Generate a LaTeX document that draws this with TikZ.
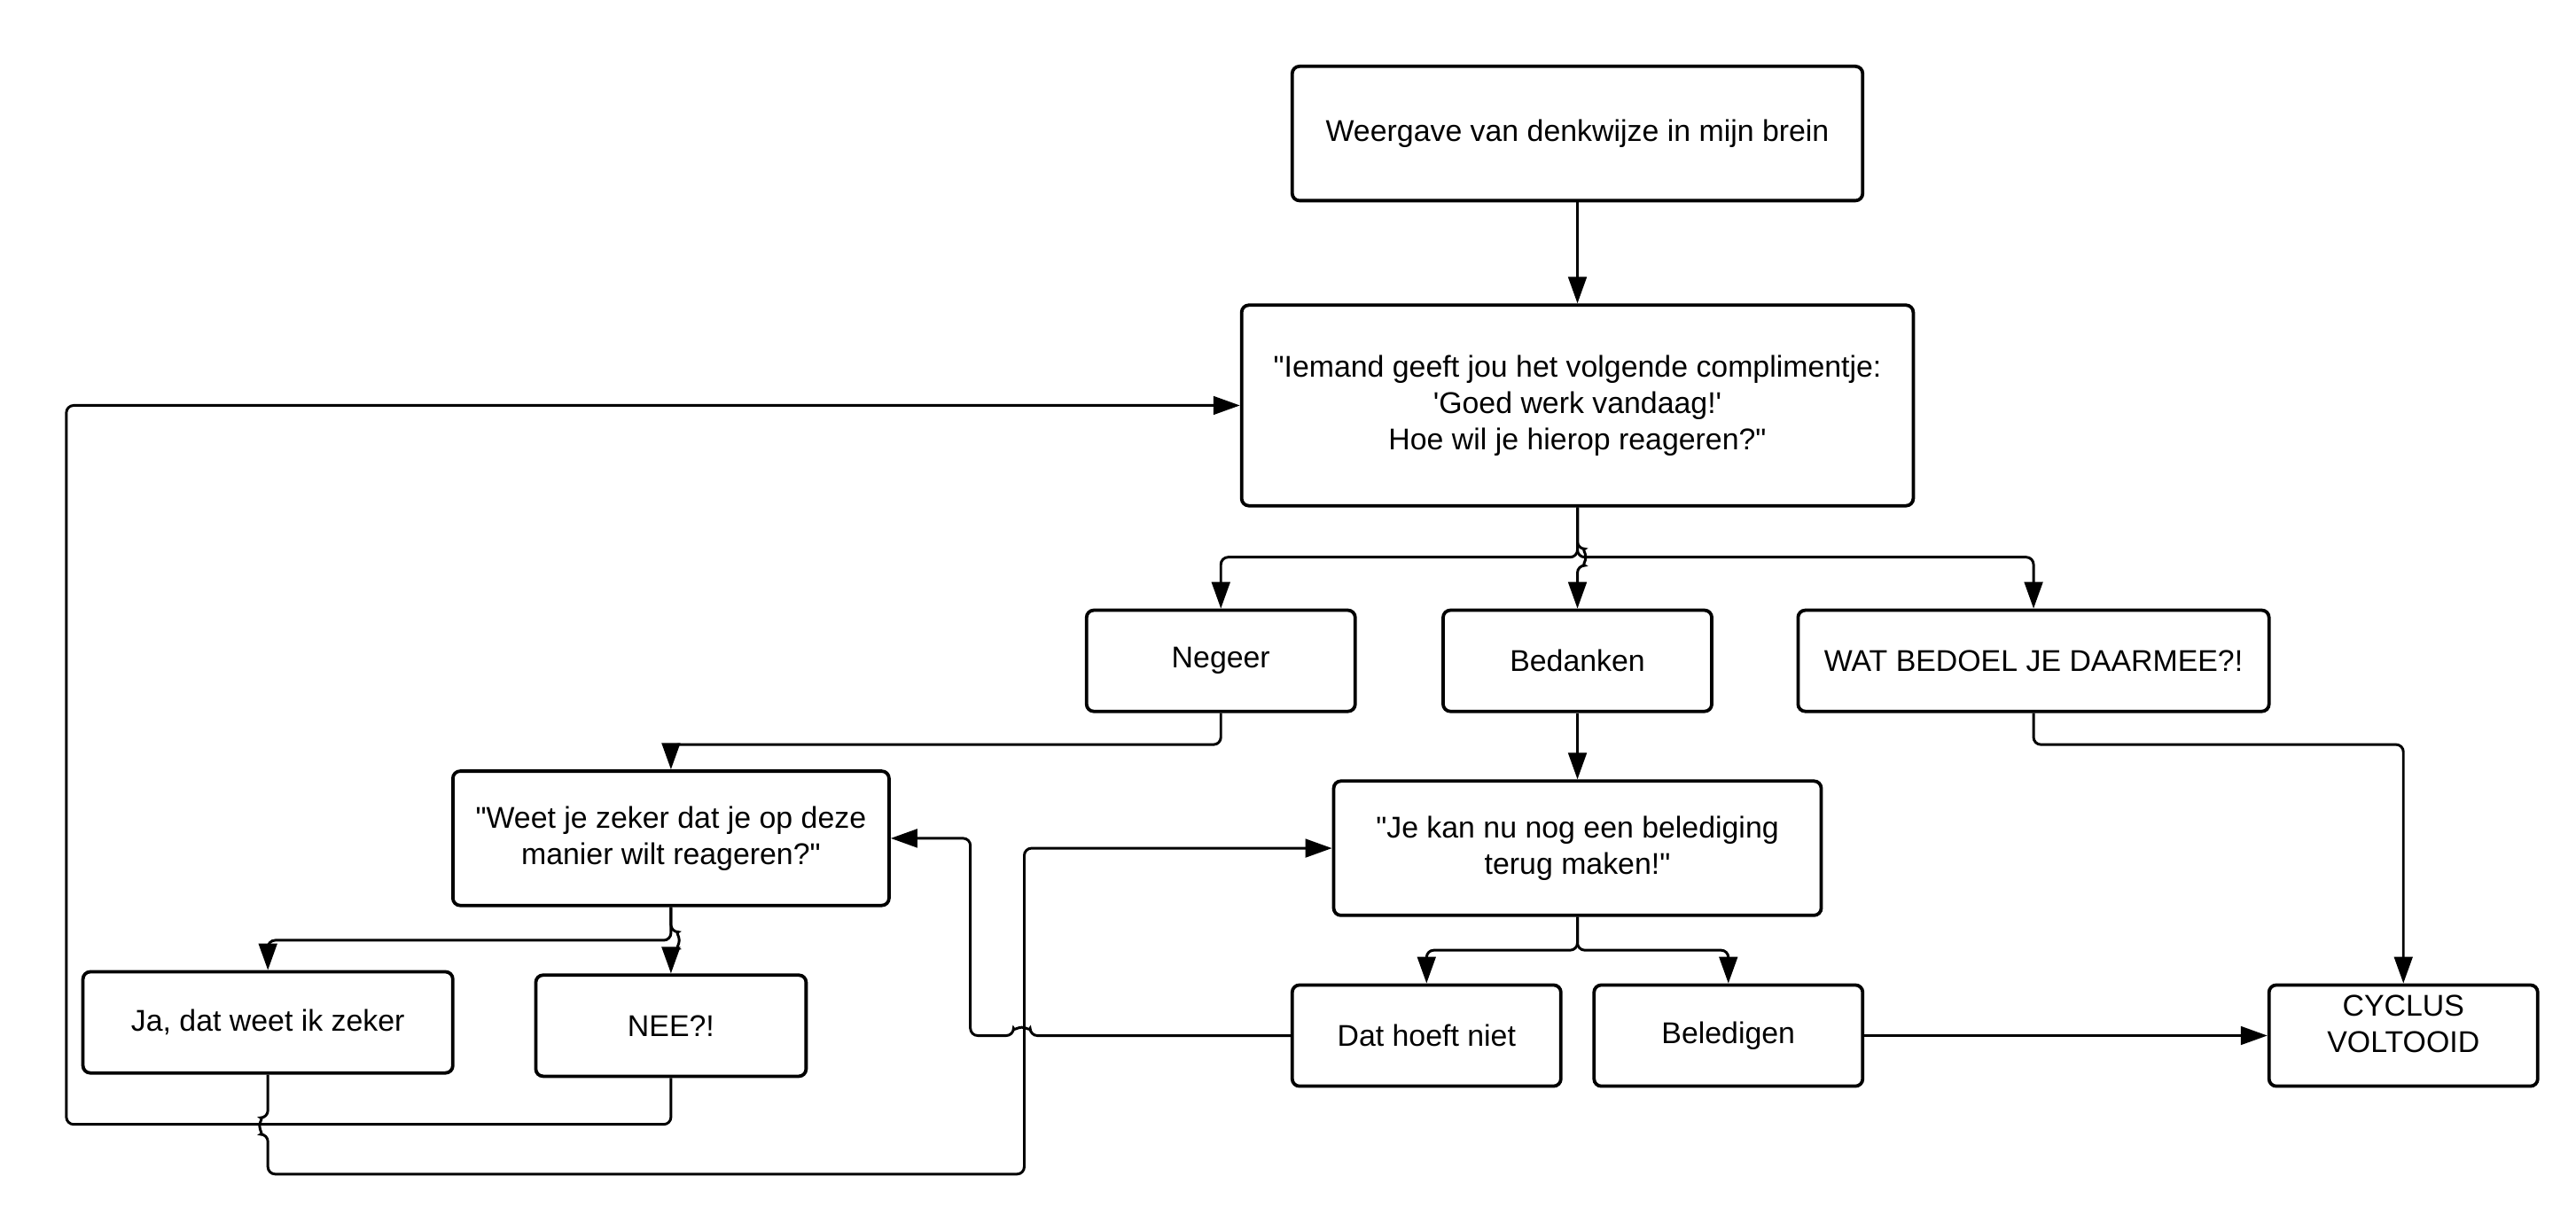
\documentclass[tikz,border=0pt]{standalone}
\usepackage{fontspec}
\setmainfont{Liberation Sans}
\usetikzlibrary{arrows.meta,positioning}
\newcommand{\dq}{\textquotedbl}
\newcommand{\sq}{\textquotesingle}
\tikzset{
    %Define standard arrow tip
    >={Triangle[length=0.32cm,width=0.22cm]},
    %Define style for boxes
    blok/.style={
           rectangle,
           rounded corners=2.5pt,
           draw=black, line width=1.15pt,
           minimum height=1.22cm,
           inner sep=0pt,
           align=center,
           font=\fontsize{10.3}{12.5}\selectfont},
    % Define arrow style
    pijl/.style={
           ->,
           line width=0.9pt,
           rounded corners=2.5pt}
}

\begin{document}
\begin{tikzpicture}[x=0.02cm,y=0.02cm]
\useasboundingbox (0,0) rectangle (1553,-742);
% column in the middle
\node[blok, minimum width=6.88cm, minimum height=1.62cm] (top) at (951,-80.5) {Weergave van denkwijze in mijn brein};
\node[blok, minimum width=8.1cm, minimum height=2.42cm, below=1.22cm of top] (iemand) {\dq Iemand geeft jou het volgende complimentje:\\\sq Goed werk vandaag!\sq\\Hoe wil je hierop reageren?\dq};
\node[blok, minimum width=3.24cm, below=1.22cm of iemand] (bedanken) {Bedanken};
\node[blok, minimum width=3.24cm, left=1.02cm of bedanken] (negeer) {Negeer};
\node[blok, minimum width=5.68cm, right=1cm of bedanken] (wat) {WAT BEDOEL JE DAARMEE?!};
\node[blok, minimum width=5.88cm, minimum height=1.62cm, below=0.8cm of bedanken] (jekan) {\dq Je kan nu nog een belediging\\terug maken!\dq};
% left part
\node[blok, minimum width=5.26cm, minimum height=1.62cm] (weet) at (404.5,-505.5) {\dq Weet je zeker dat je op deze\\manier wilt reageren?\dq};
\node[blok, minimum width=4.46cm] (ja) at (161.5,-616.5) {Ja, dat weet ik zeker};
\node[blok, minimum width=3.26cm, below=0.8cm of weet] (nee) {NEE?!};
% bottom row
\node[blok, minimum width=3.24cm, below=0.8cm of jekan, xshift=-1.82cm] (dathoeft) {Dat hoeft niet};
\node[blok, minimum width=3.24cm, below=0.8cm of jekan, xshift=1.82cm] (beledigen) {Beledigen};
\node[blok, minimum width=3.24cm, text depth=0.28cm, right=4.86cm of beledigen] (cyclus) {CYCLUS\\VOLTOOID};

\draw[pijl] (top) -- (iemand);
\draw[pijl] (iemand.south) -- ++(0,-30) -| (negeer.north);
\draw[pijl] (iemand.south) -- ++(0,-30) -| (wat.north);
\draw[pijl] (iemand.south) -- ++(0,-25) arc[start angle=90,end angle=-90,radius=0.1cm] -- (bedanken.north);
\draw[pijl] (negeer.south) -- ++(0,-19) -| (weet.north);
\draw[pijl] (wat.south) -- ++(0,-19) -| (cyclus.north);
\draw[pijl] (bedanken) -- (jekan);
\draw[pijl] (weet.south) -- ++(0,-20) -| (ja.north);
\draw[pijl] (weet.south) -- ++(0,-15) arc[start angle=90,end angle=-90,radius=0.1cm] -- (nee.north);
\draw[pijl] (jekan.south) -- ++(0,-20) -| (dathoeft.north);
\draw[pijl] (jekan.south) -- ++(0,-20) -| (beledigen.north);
\draw[pijl] (beledigen) -- (cyclus);
% loops back
\draw[pijl] (dathoeft.west) -- ++(-157,0) arc[start angle=0,end angle=180,radius=0.1cm] -- ++(-26,0) |- (weet.east);
\draw[pijl] (ja.south) -- ++(0,-26) arc[start angle=90,end angle=270,radius=0.1cm] -- ++(0,-24) -- ++(456,0) |- (jekan.west);
\draw[pijl] (nee.south) |- (40,-678) |- (iemand.west);
\end{tikzpicture}
\end{document}
